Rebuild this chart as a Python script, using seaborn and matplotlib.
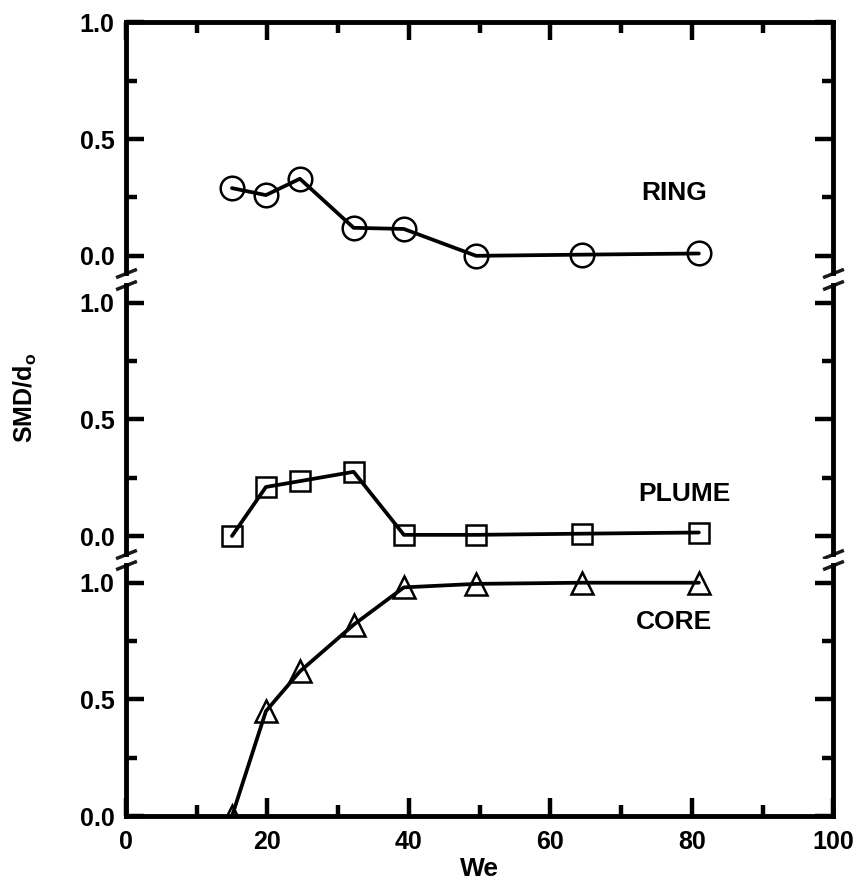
import matplotlib
matplotlib.use("Agg")
from matplotlib import pyplot as plt
from matplotlib.ticker import MultipleLocator, FixedLocator, FormatStrFormatter
import seaborn as sns

sns.set_theme(style="ticks")
plt.rcParams['font.family'] = ['Liberation Sans', 'DejaVu Sans']
plt.rcParams['font.weight'] = 'bold'
plt.rcParams['text.color'] = 'black'
plt.rcParams['axes.labelcolor'] = 'black'
plt.rcParams['mathtext.fontset'] = 'custom'
plt.rcParams['mathtext.rm'] = 'Liberation Sans:bold'
plt.rcParams['mathtext.bf'] = 'Liberation Sans:bold'

# 读图得到的数据 (We, SMD/do)
we = [15, 19.8, 24.6, 32.2, 39.3, 49.5, 64.5, 81]
ring = [0.29, 0.26, 0.33, 0.12, 0.115, 0.0, 0.005, 0.01]
plume = [0.0, 0.21, 0.235, 0.275, 0.005, 0.005, 0.01, 0.015]
core = [0.0, 0.45, 0.62, 0.82, 0.98, 0.995, 1.0, 1.0]

names = ['RING', 'PLUME', 'CORE']
series = [ring, plume, core]
markers = ['o', 's', '^']
marker_sizes = [17, 15, 16]
label_pos = [(77.5, 0.27), (79, 0.18), (77.5, 0.83)]
ylims = [(-0.1, 1.0), (-0.1, 1.1), (0.0, 1.1)]
spine_bounds = [(-0.075, 1.0), (-0.075, 1.075), (0.0, 1.075)]

fig = plt.figure(figsize=(8.68, 8.93), dpi=100)
gs = fig.add_gridspec(3, 1, height_ratios=[1.1, 1.2, 1.1], hspace=0,
                      left=0.145, right=0.96, top=0.975, bottom=0.086)
axes = [fig.add_subplot(gs[i]) for i in range(3)]

# 折断符号
brk = dict(marker=[(-1, -0.4), (1, 0.4)], markersize=15, linestyle='none',
           color='k', mec='k', mew=2.5, clip_on=False)

for i, ax in enumerate(axes):
    sns.lineplot(x=we, y=series[i], ax=ax, color='black', linewidth=2.7,
                 marker=markers[i], markersize=marker_sizes[i],
                 markerfacecolor='none', markeredgecolor='black',
                 markeredgewidth=1.8)
    ax.text(label_pos[i][0], label_pos[i][1], names[i], ha='center', va='center',
            fontsize=19, fontweight='bold', color='black')
    ax.set_xlim(0, 100)
    ax.set_ylim(*ylims[i])
    ax.xaxis.set_major_locator(MultipleLocator(20))
    ax.xaxis.set_minor_locator(MultipleLocator(10))
    ax.yaxis.set_major_locator(FixedLocator([0.0, 0.5, 1.0]))
    ax.yaxis.set_minor_locator(FixedLocator([0.25, 0.75]))
    ax.yaxis.set_major_formatter(FormatStrFormatter('%.1f'))
    ax.tick_params(which='both', direction='in', width=3.2, color='black',
                   left=True, right=True, labelsize=18, labelcolor='black')
    ax.tick_params(which='major', length=13)
    ax.tick_params(which='minor', length=8)
    ax.tick_params(axis='y', pad=8)
    ax.tick_params(axis='x', which='both', pad=10, top=(i == 0), bottom=(i == 2),
                   labelbottom=(i == 2), labeltop=False)
    ax.set_xlabel('')
    ax.set_ylabel('')
    for side in ['left', 'right', 'top', 'bottom']:
        ax.spines[side].set_linewidth(3.5)
        ax.spines[side].set_color('black')
    ax.spines['left'].set_bounds(*spine_bounds[i])
    ax.spines['right'].set_bounds(*spine_bounds[i])
    if i > 0:
        ax.spines['top'].set_visible(False)
        ax.plot([0, 1], [spine_bounds[i][1]] * 2, transform=ax.get_yaxis_transform(), **brk)
    if i < 2:
        ax.spines['bottom'].set_visible(False)
        ax.plot([0, 1], [spine_bounds[i][0]] * 2, transform=ax.get_yaxis_transform(), **brk)

axes[2].set_xlabel('We', fontsize=19, fontweight='bold', labelpad=2, color='black')
fig.text(0.029, 0.554, r'SMD/d$_\mathbf{o}$', rotation=90, ha='center', va='center',
         fontsize=18, fontweight='bold', color='black')

plt.savefig('out.png', dpi=100, facecolor='white')
